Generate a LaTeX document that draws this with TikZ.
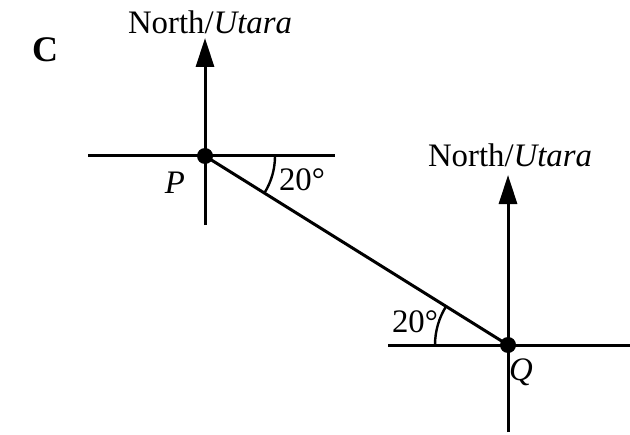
\documentclass[tikz,border=0pt]{standalone}
\usepackage{fontspec}
\setmainfont{Liberation Serif}
\usetikzlibrary{arrows.meta,calc}

\begin{document}
\begin{tikzpicture}[
  x=0.5pt, y=0.5pt,
  font=\fontsize{16.4}{19}\selectfont,
  ln/.style={line width=1.5pt},
  north/.style={line width=1.5pt, -{Triangle[length=14.5pt, width=9pt]}},
  dot/.style={circle, fill=black, minimum size=8pt, inner sep=0pt},
  ang/.style={line width=1.2pt}
]
\useasboundingbox (0,0) rectangle (630,434);

% label of the part
\node[font=\fontsize{18}{20}\selectfont\bfseries] (tag) at (45,384) {C};

% point P and its axes
\coordinate (Pw) at (88,278);
\coordinate (Pe) at (335,278);
\coordinate (Ps) at (205,209);
\coordinate (Pn) at (205,396);
\draw[ln] (Pw) -- (Pe);
\draw[north] (Ps) -- (Pn);
\node (northP) at (210,412) {North/\textit{Utara}};

% point Q and its axes
\coordinate (Qw) at (388,89);
\coordinate (Qe) at (630,89);
\coordinate (Qs) at (508,2);
\coordinate (Qn) at (508,259);
\draw[ln] (Qw) -- (Qe);
\draw[north] (Qs) -- (Qn);
\node (northQ) at (510,279) {North/\textit{Utara}};

% the dots and the line P to Q
\node[dot] (P) at (205,278) {};
\node[dot] (Q) at (508,89) {};
\draw[ln] (P.center) -- (Q.center);
\node (labP) at (175,251) {\textit{P}};
\node (labQ) at (521,62) {\textit{Q}};

% angles
\draw[ang] ($(P.center)+(70,0)$) arc[start angle=0, end angle=-31.95, radius=70];
\node (angP) at (302,254) {20°};
\draw[ang] ($(Q.center)+(-73,0)$) arc[start angle=180, end angle=148.05, radius=73];
\node (angQ) at (415,112) {20°};
\end{tikzpicture}
\end{document}
